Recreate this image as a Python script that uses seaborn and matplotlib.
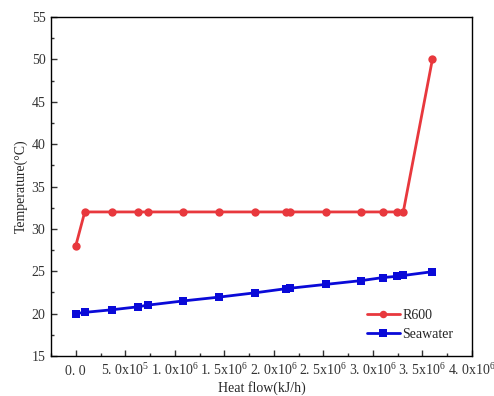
import numpy as np
import pandas as pd
import matplotlib
matplotlib.use("Agg")
import matplotlib.pyplot as plt
import seaborn as sns
from matplotlib.ticker import FixedLocator, FixedFormatter, MultipleLocator

# heat flow (kJ/h)
heat_flow = [0, 9.1e4, 3.61e5, 6.24e5, 7.26e5, 1.086e6, 1.447e6, 1.805e6,
             2.125e6, 2.166e6, 2.523e6, 2.884e6, 3.097e6, 3.239e6, 3.306e6, 3.6e6]
r600_temp = [28.0, 32, 32, 32, 32, 32, 32, 32, 32, 32, 32, 32, 32, 32, 32, 50.0]
seawater_temp = [20.0, 20.15, 20.45, 20.8, 21.0, 21.5, 21.95, 22.45,
                 22.95, 23.0, 23.45, 23.9, 24.25, 24.4, 24.5, 24.95]

xtick_vals = [0, 5e5, 1e6, 1.5e6, 2e6, 2.5e6, 3e6, 3.5e6, 4e6]
xtick_labels = ["0. 0", r"5. 0x10$^{5}$", r"1. 0x10$^{6}$", r"1. 5x10$^{6}$",
                r"2. 0x10$^{6}$", r"2. 5x10$^{6}$", r"3. 0x10$^{6}$",
                r"3. 5x10$^{6}$", r"4. 0x10$^{6}$"]

df = pd.DataFrame({
    "Heat flow": heat_flow * 2,
    "Temperature": r600_temp + seawater_temp,
    "series": ["R600"] * len(heat_flow) + ["Seawater"] * len(heat_flow),
})

sns.set_theme(style="white")
plt.rcParams["font.family"] = ["Liberation Serif", "DejaVu Serif"]
plt.rcParams["mathtext.fontset"] = "custom"
plt.rcParams["mathtext.rm"] = "Liberation Serif"
plt.rcParams["mathtext.it"] = "Liberation Serif:italic"

fig = plt.figure(figsize=(4.94, 3.96), dpi=100)
ax = fig.add_axes([0.1032, 0.101, 0.8523, 0.856])

sns.lineplot(data=df, x="Heat flow", y="Temperature", hue="series", style="series",
             markers={"R600": "o", "Seawater": "s"}, dashes=False,
             palette={"R600": "#e8383d", "Seawater": "#0a0ad8"},
             linewidth=2, markersize=6, markeredgewidth=0, ax=ax)

ax.set_xlim(-2.5e5, 4.0e6)
ax.set_ylim(15, 55)
ax.xaxis.set_major_locator(FixedLocator(xtick_vals))
ax.xaxis.set_major_formatter(FixedFormatter(xtick_labels))
ax.xaxis.set_minor_locator(MultipleLocator(2.5e5))
ax.yaxis.set_major_locator(MultipleLocator(5))
ax.yaxis.set_minor_locator(MultipleLocator(2.5))
ax.tick_params(which="both", direction="in", bottom=True, left=True,
               top=False, right=False, labelsize=10, colors="#333333")
ax.tick_params(which="major", length=4, width=1)
ax.tick_params(which="minor", length=2, width=1)
ax.tick_params(axis="x", which="major", pad=14)
ax.tick_params(axis="y", which="major", pad=4)
for lab in ax.get_xticklabels():
    lab.set_verticalalignment("baseline")
for s in ax.spines.values():
    s.set_color("black")
    s.set_linewidth(1)

ax.set_xlabel("Heat flow(kJ/h)", fontsize=10, labelpad=2)
ax.set_ylabel("Temperature(\u00b0C)", fontsize=10, labelpad=3)

leg = ax.legend(loc="lower right", frameon=False, fontsize=10,
                bbox_to_anchor=(0.985, 0.008), handlelength=2.4, labelspacing=0.45,
                handletextpad=0.15, markerscale=0.9)

fig.savefig("out.png", dpi=100)
